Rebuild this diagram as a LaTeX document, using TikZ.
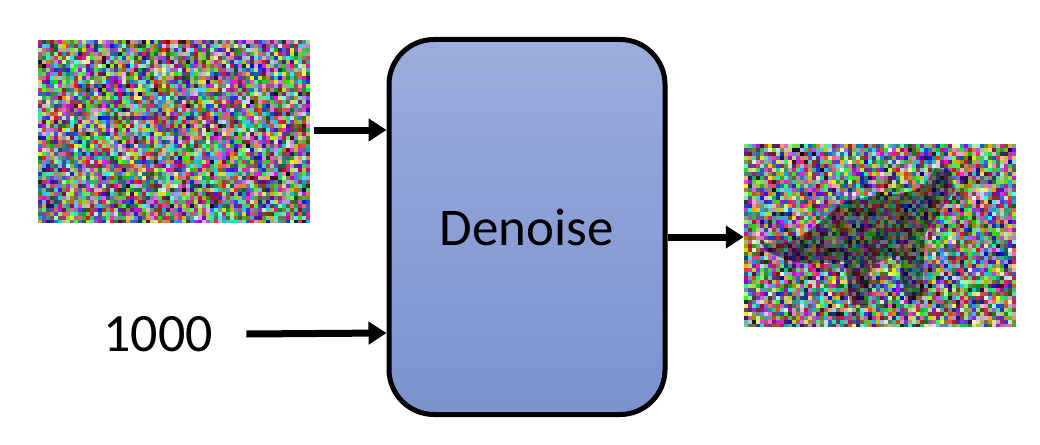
\documentclass[tikz,border=0pt]{standalone}
\usepackage{fontspec}
\setmainfont{Carlito}
\usetikzlibrary{arrows.meta}
\definecolor{boxtop}{RGB}{156,172,220}
\definecolor{boxbot}{RGB}{122,146,206}
\begin{document}
\begin{tikzpicture}[x=1pt,y=-1pt,
  arr/.style={line width=7pt,-{Triangle[length=18pt,width=22pt]}},
  img/.style={draw=none,minimum width=272pt,minimum height=182pt,inner sep=0pt}]
\useasboundingbox (0,0) rectangle (1040,444);
\pgfmathsetseed{7}
\node[img] (in) at (174,131) {};
\node[img] (out) at (880,235) {};
\foreach \ox/\oy in {38/40,744/144}{
  \begin{scope}
  \clip (\ox,\oy) rectangle ++(272,182);
  \foreach \i in {0,...,67}{
    \foreach \j in {0,...,45}{
      \pgfmathsetmacro\r{rnd}\pgfmathsetmacro\g{rnd}\pgfmathsetmacro\b{rnd}
      \definecolor{pc}{rgb}{\r,\g,\b}
      \fill[pc] (\ox+4*\i,\oy+4*\j) rectangle ++(4,4);
    }}
  \end{scope}
}
\fill[black,opacity=0.45] (760,240) .. controls (790,255) and (815,225) .. (840,205)
  .. controls (870,190) and (905,200) .. (925,185) -- (935,168) -- (950,170)
  -- (955,190) .. controls (945,205) and (935,215) .. (925,235)
  -- (922,300) -- (905,300) -- (900,255) -- (870,265) -- (868,305) -- (850,305)
  -- (845,262) .. controls (820,262) and (800,270) .. (765,250) -- cycle;
\node[draw,line width=5pt,rounded corners=45pt,minimum width=276pt,minimum height=375pt,
  top color=boxtop,bottom color=boxbot,
  font=\fontsize{53}{56}\selectfont] (den) at (527,227) {Denoise};
\node[font=\fontsize{54}{56}\selectfont,anchor=center] (t) at (158,334) {1000};
\draw[arr] (314,130) -- (den.west |- 0,130);
\draw[arr] (t.east) ++(30,0) -- (den.west |- 0,333);
\draw[arr] (den.east |- 0,237) -- (out.west |- 0,237);
\end{tikzpicture}
\end{document}
